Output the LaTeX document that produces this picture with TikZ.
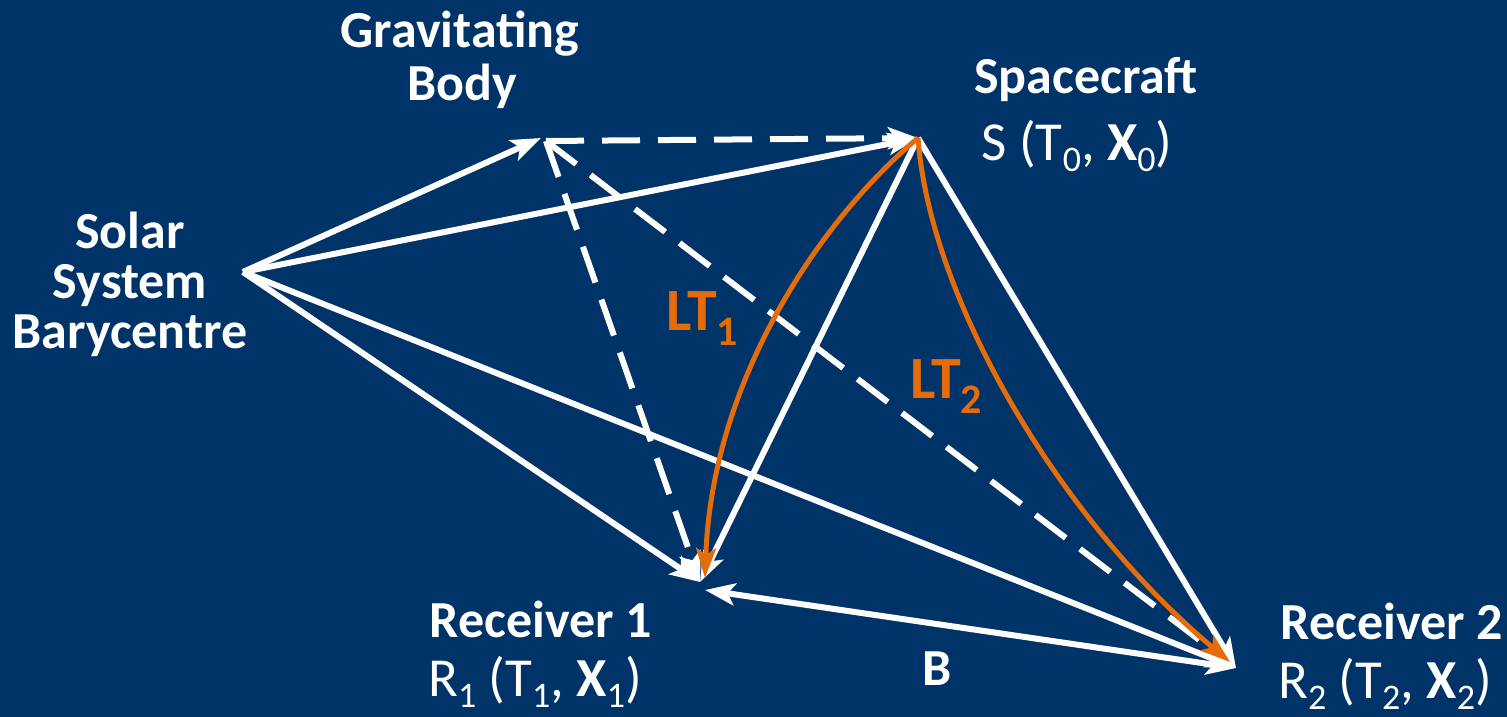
\documentclass[tikz,border=0pt]{standalone}
\usepackage{fontspec}
\setmainfont{Carlito}
\usetikzlibrary{arrows.meta}
\definecolor{bg}{RGB}{0,51,104}
\definecolor{ltorange}{RGB}{228,108,10}
\newcommand{\mysub}[1]{\raisebox{-0.2em}{\fontsize{36}{36}\selectfont #1}}
\newcommand{\mysubb}[1]{\raisebox{-0.25em}{\fontsize{42}{42}\selectfont #1}}
\begin{document}
\begin{tikzpicture}[x=1pt,y=-1pt,
  txt/.style={text=white,font=\fontsize{55}{50}\selectfont,inner sep=0pt,anchor=base},
  btxt/.style={txt,font=\fontsize{52}{50}\selectfont\bfseries},
  otxt/.style={txt,text=ltorange,font=\fontsize{60}{60}\selectfont\bfseries,anchor=base west},
  vec/.style={draw=white,line width=6pt,-{Stealth[length=30pt,width=22pt,inset=7pt]}},
  dvec/.style={vec,dash pattern=on 38pt off 18pt},
  bvec/.style={draw=white,line width=6pt,{Stealth[length=30pt,width=22pt,inset=7pt]}-{Stealth[length=30pt,width=22pt,inset=7pt]}},
  ovec/.style={draw=ltorange,line width=5pt,-{Stealth[length=30pt,width=20pt,inset=7pt]}}]
\fill[bg] (0,0) rectangle (1507,717);
\useasboundingbox (0,0) rectangle (1507,717);

\coordinate (ssb) at (243,272);
\coordinate (gb) at (541,138);
\coordinate (gbs) at (546,141);
\coordinate (sc) at (918,138);
\coordinate (r1) at (700,582);
\coordinate (r1b) at (705,590);
\coordinate (r2) at (1236,668);

% labels
\node[btxt] (grav) at (460,48) {Gravitating};
\node[btxt] (body) at (462,100) {Body};
\node[btxt] (scl) at (1086,93) {Spacecraft};
\node[txt] (scc) at (1077,160) {S (T\mysub{0}, \textbf{X}\mysub{0})};
\node[btxt] (ssb1) at (130,248) {Solar};
\node[btxt] (ssb2) at (130,298) {System};
\node[btxt] (ssb3) at (130,348) {Barycentre};
\node[btxt] (rec1) at (541,637) {Receiver 1};
\node[txt] (rec1c) at (535,696) {R\mysub{1} (T\mysub{1}, \textbf{X}\mysub{1})};
\node[btxt] (rec2) at (1392,639) {Receiver 2};
\node[txt] (rec2c) at (1385,698) {R\mysub{2} (T\mysub{2}, \textbf{X}\mysub{2})};
\node[btxt] (bl) at (937,685) {B};

% solid vectors
\draw[vec] (ssb) -- (gb);
\draw[vec] (ssb) -- (sc);
\draw[vec] (ssb) -- (r1);
\draw[vec] (ssb) -- (r2);
\draw[vec] (sc) -- (r1);
\draw[vec] (sc) -- (r2);
\draw[bvec] (r1b) -- (r2);

% dashed vectors
\draw[dvec] (gbs) -- (sc);
\draw[dvec] (gbs) -- (r1);
\draw[dvec] (gbs) -- (r2);

% light-time paths
\draw[ovec] (sc) .. controls (820,220) and (712,380) .. (705,578);
\draw[ovec] (sc) .. controls (930,300) and (1060,520) .. (1230,662);
\node[otxt] (lt1) at (666,330) {LT\mysubb{1}};
\node[otxt] (lt2) at (910,398) {LT\mysubb{2}};
\end{tikzpicture}
\end{document}
